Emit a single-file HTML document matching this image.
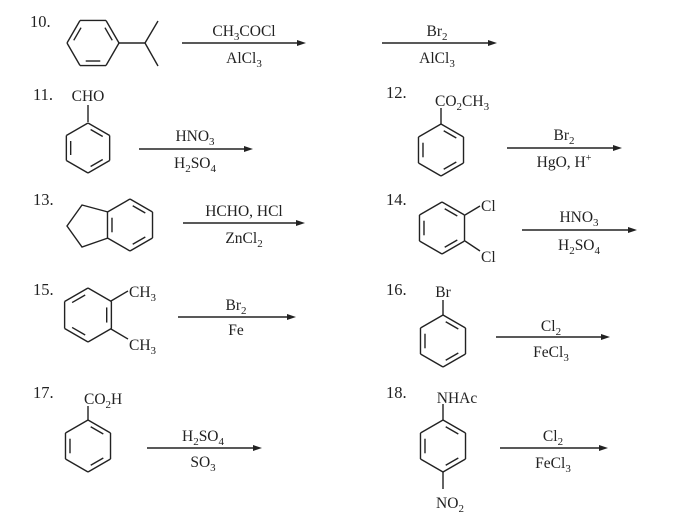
<!DOCTYPE html>
<html><head><meta charset="utf-8"><style>
html,body{margin:0;padding:0;background:#fff;}
svg{display:block;}
text{font-family:"Liberation Serif",serif;font-size:15.5px;fill:#222;}
.n{font-size:16.5px;}
</style></head><body>
<svg id="s" width="694" height="527" viewBox="0 0 694 527" xmlns="http://www.w3.org/2000/svg">
<g stroke="#222" stroke-width="1.4" fill="none" id="g">
<line x1="118" y1="43" x2="145" y2="43"/><line x1="145" y1="43" x2="158" y2="21"/><line x1="145" y1="43" x2="158" y2="66"/>
<line x1="88" y1="122" x2="88" y2="105"/>
<line x1="441" y1="124" x2="441" y2="108"/>
<polyline points="108,212 82,205 67,226 82,247 108,238"/>
<line x1="465" y1="215" x2="480" y2="206"/><line x1="465" y1="241" x2="480" y2="251"/>
<line x1="111" y1="301" x2="128" y2="291"/><line x1="111" y1="329" x2="128" y2="339"/>
<line x1="443" y1="315" x2="443" y2="300"/>
<line x1="88" y1="420" x2="88" y2="406"/>
<line x1="443" y1="420" x2="443" y2="404"/><line x1="443" y1="472" x2="443" y2="489"/>
<line x1="182" y1="43" x2="300" y2="43"/><line x1="382" y1="43" x2="491" y2="43"/>
<line x1="139" y1="149" x2="247" y2="149"/><line x1="507" y1="148" x2="616" y2="148"/>
<line x1="183" y1="223" x2="299" y2="223"/><line x1="522" y1="230" x2="631" y2="230"/>
<line x1="178" y1="317" x2="290" y2="317"/><line x1="496" y1="337" x2="604" y2="337"/>
<line x1="147" y1="448" x2="256" y2="448"/><line x1="500" y1="448" x2="602" y2="448"/>
</g>
<g fill="#222">
<polygon points="306,43 297,40 297,46"/><polygon points="497,43 488,40 488,46"/>
<polygon points="253,149 244,146 244,152"/><polygon points="622,148 613,145 613,151"/>
<polygon points="305,223 296,220 296,226"/><polygon points="637,230 628,227 628,233"/>
<polygon points="296,317 287,314 287,320"/><polygon points="610,337 601,334 601,340"/>
<polygon points="262,448 253,445 253,451"/><polygon points="608,448 599,445 599,451"/>
</g>
<g>
<text class="n" x="30" y="27">10.</text>
<text class="n" x="33" y="100">11.</text>
<text class="n" x="386" y="98">12.</text>
<text class="n" x="33" y="205">13.</text>
<text class="n" x="386" y="205">14.</text>
<text class="n" x="33" y="295">15.</text>
<text class="n" x="386" y="295">16.</text>
<text class="n" x="33" y="398">17.</text>
<text class="n" x="386" y="398">18.</text>
<text x="244" y="36" text-anchor="middle">CH<tspan font-size="11" dy="4">3</tspan><tspan dy="-4">COCl</tspan></text>
<text x="244" y="63" text-anchor="middle">AlCl<tspan font-size="11" dy="4">3</tspan></text>
<text x="437" y="36" text-anchor="middle">Br<tspan font-size="11" dy="4">2</tspan></text>
<text x="437" y="63" text-anchor="middle">AlCl<tspan font-size="11" dy="4">3</tspan></text>
<text x="88" y="101" text-anchor="middle">CHO</text>
<text x="195" y="141" text-anchor="middle">HNO<tspan font-size="11" dy="4">3</tspan></text>
<text x="195" y="168" text-anchor="middle">H<tspan font-size="11" dy="4">2</tspan><tspan dy="-4">SO</tspan><tspan font-size="11" dy="4">4</tspan></text>
<text x="435" y="106">CO<tspan font-size="11" dy="4">2</tspan><tspan dy="-4">CH</tspan><tspan font-size="11" dy="4">3</tspan></text>
<text x="564" y="140" text-anchor="middle">Br<tspan font-size="11" dy="4">2</tspan></text>
<text x="564" y="167" text-anchor="middle">HgO, H<tspan font-size="10" dy="-6">+</tspan></text>
<text x="244" y="216" text-anchor="middle">HCHO, HCl</text>
<text x="244" y="243" text-anchor="middle">ZnCl<tspan font-size="11" dy="4">2</tspan></text>
<text x="481" y="211">Cl</text>
<text x="481" y="262">Cl</text>
<text x="579" y="222" text-anchor="middle">HNO<tspan font-size="11" dy="4">3</tspan></text>
<text x="579" y="250" text-anchor="middle">H<tspan font-size="11" dy="4">2</tspan><tspan dy="-4">SO</tspan><tspan font-size="11" dy="4">4</tspan></text>
<text x="129" y="297">CH<tspan font-size="11" dy="4">3</tspan></text>
<text x="129" y="350">CH<tspan font-size="11" dy="4">3</tspan></text>
<text x="236" y="310" text-anchor="middle">Br<tspan font-size="11" dy="4">2</tspan></text>
<text x="236" y="335" text-anchor="middle">Fe</text>
<text x="443" y="297" text-anchor="middle">Br</text>
<text x="551" y="331" text-anchor="middle">Cl<tspan font-size="11" dy="4">2</tspan></text>
<text x="551" y="357" text-anchor="middle">FeCl<tspan font-size="11" dy="4">3</tspan></text>
<text x="84" y="404">CO<tspan font-size="11" dy="4">2</tspan><tspan dy="-4">H</tspan></text>
<text x="203" y="441" text-anchor="middle">H<tspan font-size="11" dy="4">2</tspan><tspan dy="-4">SO</tspan><tspan font-size="11" dy="4">4</tspan></text>
<text x="203" y="467" text-anchor="middle">SO<tspan font-size="11" dy="4">3</tspan></text>
<text x="457" y="403" text-anchor="middle">NHAc</text>
<text x="450" y="508" text-anchor="middle">NO<tspan font-size="11" dy="4">2</tspan></text>
<text x="553" y="441" text-anchor="middle">Cl<tspan font-size="11" dy="4">2</tspan></text>
<text x="553" y="468" text-anchor="middle">FeCl<tspan font-size="11" dy="4">3</tspan></text>
</g>
</svg>
<script>
(function(){
var g=document.getElementById('g'),NS='http://www.w3.org/2000/svg';
function L(a,b,c,d){var l=document.createElementNS(NS,'line');l.setAttribute('x1',a);l.setAttribute('y1',b);l.setAttribute('x2',c);l.setAttribute('y2',d);g.appendChild(l);}
function ring(cx,cy,r,start,dbl){
 var p=[];for(var i=0;i<6;i++){var a=(start+60*i)*Math.PI/180;p.push([cx+r*Math.cos(a),cy+r*Math.sin(a)]);}
 for(var i=0;i<6;i++){var A=p[i],B=p[(i+1)%6];L(A[0],A[1],B[0],B[1]);
  if(dbl.indexOf(i)>=0){var k=0.8,s=0.15;
   var a=[cx+(A[0]-cx)*k,cy+(A[1]-cy)*k],b=[cx+(B[0]-cx)*k,cy+(B[1]-cy)*k];
   var dx=b[0]-a[0],dy=b[1]-a[1];
   L(a[0]+dx*s,a[1]+dy*s,b[0]-dx*s,b[1]-dy*s);}}
}
ring(93,43,26,0,[1,3,5]);
ring(88,148,25,-90,[0,2,4]);
ring(441,150,26,-90,[0,2,4]);
ring(130,225,26,-90,[0,2,4]);
ring(442,228,26,-90,[0,2,4]);
ring(88,315,27,-90,[1,3,5]);
ring(443,341,26,-90,[0,2,4]);
ring(88,446,26,-90,[0,2,4]);
ring(443,446,26,-90,[0,2,4]);
})();
</script>
</body></html>
